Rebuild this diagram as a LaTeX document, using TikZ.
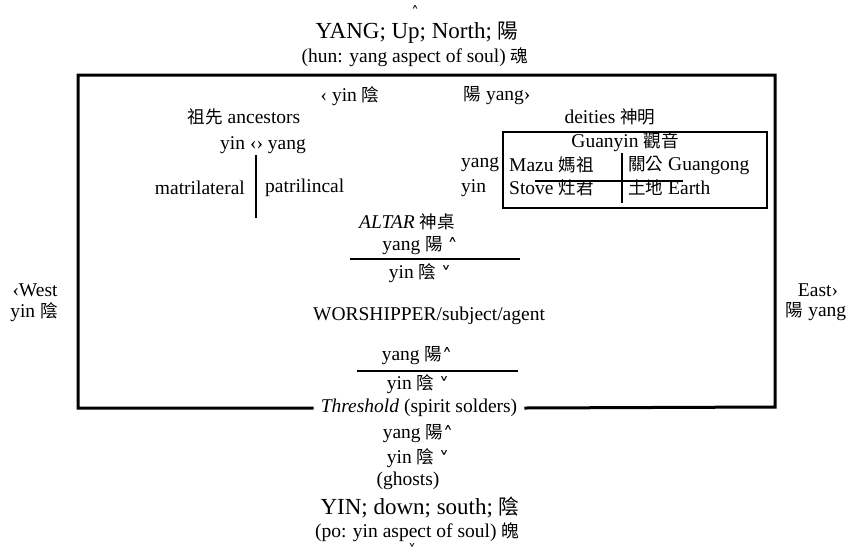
\documentclass[tikz,border=0pt]{standalone}
\usepackage{fontspec}
\setmainfont{Liberation Serif}
\newfontfamily\cjk[Scale=0.9]{Noto Sans CJK TC}
\newfontfamily\symf{DejaVu Sans}
\newcommand{\zh}[1]{{\cjk #1}}
\newcommand{\upmark}{\raisebox{-3pt}{\symf\fontsize{20}{20}\selectfont ˄}}
\newcommand{\dnmark}{\raisebox{-3pt}{\symf\fontsize{20}{20}\selectfont ˅}}
\newcommand{\polemark}[1]{{\symf\fontsize{15}{15}\selectfont #1}}
\usetikzlibrary{positioning}

\begin{document}
\begin{tikzpicture}[
    x=1pt, y=-1pt,
    txt/.style   = {font=\fontsize{19.5}{22}\selectfont, inner sep=0pt},
    head/.style  = {font=\fontsize{23}{26}\selectfont, inner sep=0pt},
    frame/.style = {line width=3pt},
    rule/.style  = {line width=2.8pt},
    cell/.style  = {txt, anchor=west}
  ]
  \useasboundingbox (0,0) rectangle (851,558);

  % ── North / top ────────────────────────────────────────────────────────────
  \node[txt] (upmark) at (415, 11) {\polemark{˄}};
  \node[head] (north) at (417, 33) {YANG; Up; North; \zh{陽}};
  \node[txt] (hun)   at (415, 57) {(hun: yang aspect of soul) \zh{魂}};

  % ── West / East ────────────────────────────────────────────────────────────
  \node[txt] (west)  at (35, 290) {‹West};
  \node[txt] (westy) at (34, 312) {yin \zh{陰}};
  \node[txt] (east)  at (818, 290) {East›};
  \node[txt] (easty) at (816, 312) {\zh{陽} yang};

  % ── Frame (broken by threshold) ────────────────────────────────────────────
  \node[txt] (threshold) at (419, 408) {\textit{Threshold} (spirit solders)};
  \draw[frame] (threshold.west) ++(-7,0) -| (78,75) -| (775,407) -- ([xshift=7pt]threshold.east);

  % ── Inside: top labels ─────────────────────────────────────────────────────
  \node[txt] (yinl)   at (350, 96) {‹ yin \zh{陰}};
  \node[txt] (yangr)  at (497, 96) {\zh{陽} yang›};
  \node[txt] (ancest) at (244, 117) {\zh{祖先} ancestors};
  \node[txt] (deity)  at (610, 117) {deities \zh{神明}};

  % ── Ancestors ──────────────────────────────────────────────────────────────
  \node[txt] (yinyang) at (263, 145) {yin ‹› yang};
  \coordinate (lineage) at (256, 155);
  \draw[rule] (lineage) -- ++(0, 63);
  \node[txt, anchor=east] (matri) at (245, 188) {matrilateral};
  \node[txt, anchor=west] (patri) at (265, 188) {patrilincal};

  % ── Deities box ────────────────────────────────────────────────────────────
  \draw[rule] (503,132) rectangle (767,208);
  \node[txt] (guanyin) at (625, 142) {Guanyin \zh{觀音}};
  \node[cell] (dyang)  at (461, 165) {yang};
  \node[cell] (dyin)   at (461, 188) {yin};
  \node[cell] (mazu)   at (509, 165) {Mazu \zh{媽祖}};
  \node[cell] (guang)  at (628, 165) {\zh{關公} Guangong};
  \node[cell] (stove)  at (509, 188) {Stove \zh{灶君}};
  \node[cell] (earth)  at (628, 188) {\zh{土地} Earth};
  \draw[rule] (535,181) -- (683,181);
  \draw[rule] (622,153) -- (622,203);

  % ── Altar ──────────────────────────────────────────────────────────────────
  \node[txt] (altar)   at (407, 222) {\textit{ALTAR} \zh{神桌}};
  \node[txt] (altyang) at (420, 246) {yang \zh{陽} \upmark};
  \draw[rule] (350,259) -- (520,259);
  \node[txt] (altyin)  at (420, 273) {yin \zh{陰} \dnmark};

  % ── Worshipper ─────────────────────────────────────────────────────────────
  \node[txt] (worship) at (429, 316) {WORSHIPPER/subject/agent};
  \node[txt] (wyang)   at (417, 356) {yang \zh{陽}\upmark};
  \draw[rule] (357,371) -- (518,371);
  \node[txt] (wyin)    at (418, 384) {yin \zh{陰} \dnmark};

  % ── Outside: south ─────────────────────────────────────────────────────────
  \node[txt] (oyang)  at (418, 434) {yang \zh{陽}\upmark};
  \node[txt] (oyin)   at (418, 458) {yin \zh{陰} \dnmark};
  \node[txt] (ghosts) at (408, 481) {(ghosts)};
  \node[head] (south) at (420, 508) {YIN; down; south; \zh{陰}};
  \node[txt] (po)     at (417, 532) {(po: yin aspect of soul) \zh{魄}};
  \node[txt] (dnend)  at (412, 549) {\polemark{˅}};

\end{tikzpicture}
\end{document}
